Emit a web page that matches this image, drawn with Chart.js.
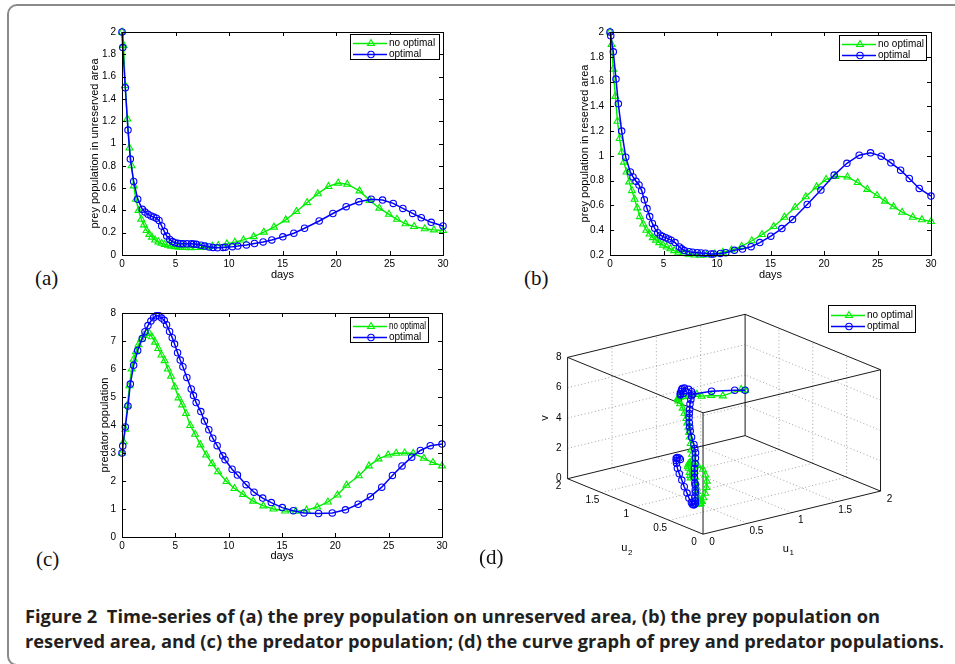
<!DOCTYPE html>
<html>
<head>
<meta charset="utf-8">
<title>Figure 2</title>
<script src="https://cdn.jsdelivr.net/npm/chart.js@4.4.1/dist/chart.umd.min.js"></script>
<style>
  body { margin: 0; background: #fff; }
  #page { position: relative; width: 955px; height: 664px; overflow: hidden; background: #fff; }
  #frame { position: absolute; left: 7px; top: 4px; width: 1000px; height: 658px; border: 2px solid #8a8a8a; border-radius: 10px; }
  canvas { position: absolute; }
  .lab { position: absolute; font-family: "Liberation Serif", "DejaVu Serif", serif; font-size: 21px; line-height: 21px; color: #111; }
  .cap { position: absolute; left: 25px; font-family: "Open Sans", "Noto Sans", sans-serif; font-weight: 700; font-size: 18px; line-height: 24px; color: #231f20; white-space: nowrap; transform-origin: 0 0; }
</style>
</head>
<body>
<div id="page">
  <div id="frame"></div>
  <canvas id="chartA" width="370" height="270" style="left:84px;top:20px"></canvas>
  <canvas id="chartB" width="370" height="270" style="left:572px;top:20px"></canvas>
  <canvas id="chartC" width="370" height="270" style="left:84px;top:301px"></canvas>
  <canvas id="chartD" width="475" height="300" style="left:480px;top:295px"></canvas>
  <div class="lab" style="left:35px;top:268px">(a)</div>
  <div class="lab" style="left:524px;top:268px">(b)</div>
  <div class="lab" style="left:36px;top:549px">(c)</div>
  <div class="lab" style="left:479px;top:547px">(d)</div>
  <div class="cap" data-w="855" style="top:604px">Figure 2&nbsp; Time-series of (a) the prey population on unreserved area, (b) the prey population on</div>
  <div class="cap" data-w="919" style="top:629px">reserved area, and (c) the predator population; (d) the curve graph of prey and predator populations.</div>
</div>
<script>
// time points (days) of the two runs
var tNo = [0, 0.15, 0.3, 0.5, 0.7, 0.9, 1.1, 1.3, 1.55, 1.8, 2.05, 2.3, 2.55, 2.8, 3.1, 3.4, 3.7, 4.0, 4.3, 4.6, 4.95, 5.3, 5.65, 6.0, 6.4, 6.85, 7.35, 7.9, 8.45, 9.0, 9.8, 10.55, 11.35, 12.3, 13.25, 14.2, 15.3, 16.3, 17.3, 18.3, 19.3, 20.2, 21.05, 22.2, 23.15, 24.05, 24.95, 25.7, 26.5, 27.3, 28.3, 29.15, 30];
var tOpt = [0, 0.07, 0.31, 0.56, 0.78, 1.09, 1.47, 1.9, 2.15, 2.43, 2.71, 2.96, 3.21, 3.46, 3.71, 3.96, 4.18, 4.46, 4.71, 4.93, 5.21, 5.46, 5.71, 6.08, 6.49, 6.7, 6.95, 7.39, 7.73, 8.14, 8.51, 8.92, 9.45, 9.66, 10.32, 10.82, 11.63, 12.38, 13.19, 14.0, 15.03, 16.06, 17.06, 18.43, 19.71, 20.95, 22.14, 23.29, 24.35, 25.35, 26.25, 27.16, 27.97, 28.9, 30];

// prey in unreserved area (u1)
var u1No = [2.0, 1.88, 1.52, 1.22, 0.96, 0.8, 0.62, 0.5, 0.4, 0.32, 0.27, 0.22, 0.185, 0.16, 0.135, 0.118, 0.105, 0.095, 0.088, 0.08, 0.075, 0.07, 0.068, 0.067, 0.066, 0.067, 0.068, 0.072, 0.078, 0.085, 0.1, 0.115, 0.135, 0.165, 0.205, 0.25, 0.315, 0.39, 0.47, 0.55, 0.615, 0.645, 0.635, 0.575, 0.49, 0.42, 0.365, 0.32, 0.28, 0.255, 0.235, 0.225, 0.22];
var u1Opt = [2.0, 1.86, 1.5, 1.12, 0.86, 0.66, 0.5, 0.41, 0.385, 0.365, 0.35, 0.34, 0.33, 0.31, 0.26, 0.21, 0.17, 0.14, 0.12, 0.11, 0.105, 0.102, 0.1, 0.1, 0.1, 0.098, 0.096, 0.088, 0.08, 0.072, 0.068, 0.066, 0.068, 0.07, 0.075, 0.08, 0.09, 0.103, 0.117, 0.135, 0.163, 0.195, 0.24, 0.305, 0.372, 0.433, 0.478, 0.5, 0.493, 0.463, 0.418, 0.373, 0.334, 0.293, 0.26];

// prey in reserved area (u2)
var u2No = [2.0, 1.9, 1.7, 1.48, 1.28, 1.14, 1.03, 0.95, 0.87, 0.79, 0.72, 0.65, 0.58, 0.51, 0.45, 0.4, 0.37, 0.34, 0.32, 0.3, 0.28, 0.265, 0.25, 0.235, 0.222, 0.213, 0.206, 0.2, 0.198, 0.2, 0.208, 0.222, 0.24, 0.27, 0.315, 0.365, 0.43, 0.505, 0.585, 0.67, 0.75, 0.81, 0.835, 0.83, 0.785, 0.73, 0.68, 0.635, 0.59, 0.545, 0.505, 0.485, 0.47];
var u2Opt = [2.0, 1.97, 1.84, 1.62, 1.42, 1.2, 0.99, 0.87, 0.83, 0.795, 0.765, 0.72, 0.645, 0.575, 0.51, 0.455, 0.415, 0.38, 0.36, 0.35, 0.34, 0.33, 0.32, 0.3, 0.265, 0.25, 0.236, 0.227, 0.222, 0.219, 0.216, 0.214, 0.209, 0.208, 0.213, 0.219, 0.238, 0.248, 0.267, 0.3, 0.352, 0.413, 0.486, 0.608, 0.724, 0.845, 0.94, 1.006, 1.025, 0.998, 0.944, 0.885, 0.818, 0.737, 0.676];

// predator (v)
var vNo = [3.0, 3.4, 3.85, 4.7, 5.4, 6.0, 6.35, 6.62, 6.87, 7.06, 7.2, 7.28, 7.28, 7.15, 6.96, 6.73, 6.5, 6.3, 6.0, 5.74, 5.36, 4.97, 4.72, 4.41, 3.98, 3.67, 3.29, 2.93, 2.62, 2.33, 1.98, 1.73, 1.52, 1.28, 1.11, 1.0, 0.93, 0.92, 0.96, 1.07, 1.25, 1.5, 1.85, 2.19, 2.54, 2.79, 2.93, 2.99, 3.0, 2.99, 2.81, 2.66, 2.54];
var vOpt = [3.0, 3.25, 3.93, 4.68, 5.46, 6.13, 6.66, 7.09, 7.33, 7.55, 7.71, 7.83, 7.9, 7.9, 7.82, 7.74, 7.58, 7.34, 7.12, 6.89, 6.58, 6.32, 6.08, 5.7, 5.29, 5.05, 4.8, 4.48, 4.14, 3.83, 3.53, 3.26, 2.9, 2.76, 2.42, 2.21, 1.87, 1.6, 1.39, 1.23, 1.05, 0.94, 0.86, 0.84, 0.86, 0.97, 1.17, 1.44, 1.78, 2.2, 2.54, 2.85, 3.09, 3.26, 3.32];

var seriesNames = ['no optimal', 'optimal'];
var xTicks = [0, 5, 10, 15, 20, 25, 30];
var yTicksA = [0, 0.2, 0.4, 0.6, 0.8, 1, 1.2, 1.4, 1.6, 1.8, 2];
var yTicksB = [0.2, 0.4, 0.6, 0.8, 1, 1.2, 1.4, 1.6, 1.8, 2];
var yTicksC = [0, 1, 2, 3, 4, 5, 6, 7, 8];
var u1Ticks = [0, 0.5, 1, 1.5, 2];
var u2Ticks = [0, 0.5, 1, 1.5, 2];
var vTicks = [0, 2, 4, 6, 8];

Chart.defaults.font.family = '"Liberation Sans", Arial, Helvetica, sans-serif';
Chart.defaults.font.size = 10;
Chart.defaults.color = '#000';

var GREEN = '#00ee00', BLUE = '#0000ff';
var greenStyle = { borderColor: GREEN, borderWidth: 1.4, pointStyle: 'triangle', pointRadius: 4, pointBorderColor: GREEN, pointBackgroundColor: 'rgba(0,0,0,0)', pointBorderWidth: 1.1, showLine: true, clip: false, order: 1 };
var blueStyle = { borderColor: BLUE, borderWidth: 1.5, pointStyle: 'circle', pointRadius: 3.2, pointBorderColor: BLUE, pointBackgroundColor: 'rgba(0,0,0,0)', pointBorderWidth: 1.1, showLine: true, clip: false, order: 0 };

function pts(ts, vals) {
  return ts.map(function(t, i) { return { x: t, y: vals[i] }; });
}

// matlab style box with inward ticks on all four sides
var mBox = {
  id: 'mbox',
  afterDatasetsDraw: function(chart) {
    var ctx = chart.ctx, a = chart.chartArea, x = chart.scales.x, y = chart.scales.y, L = 4;
    ctx.save();
    ctx.strokeStyle = '#000';
    ctx.lineWidth = 1;
    ctx.strokeRect(Math.round(a.left) + 0.5, Math.round(a.top) + 0.5, Math.round(a.width), Math.round(a.height));
    ctx.beginPath();
    x.ticks.forEach(function(t) {
      var p = Math.round(x.getPixelForValue(t.value)) + 0.5;
      ctx.moveTo(p, a.bottom); ctx.lineTo(p, a.bottom - L);
      ctx.moveTo(p, a.top); ctx.lineTo(p, a.top + L);
    });
    y.ticks.forEach(function(t) {
      var p = Math.round(y.getPixelForValue(t.value)) + 0.5;
      ctx.moveTo(a.left, p); ctx.lineTo(a.left + L, p);
      ctx.moveTo(a.right, p); ctx.lineTo(a.right - L, p);
    });
    ctx.stroke();
    ctx.restore();
  }
};

var mLegend = {
  id: 'mlegend',
  afterDraw: function(chart, args, opts) {
    var b = opts.box;
    if (!b) return;
    var ctx = chart.ctx;
    ctx.save();
    ctx.fillStyle = '#fff';
    ctx.fillRect(b.x, b.y, b.w, b.h);
    ctx.strokeStyle = '#000';
    ctx.lineWidth = 1;
    ctx.strokeRect(b.x + 0.5, b.y + 0.5, b.w, b.h);
    var rows = chart.data.datasets.filter(function(d) { return seriesNames.indexOf(d.label) >= 0; });
    rows.forEach(function(d, i) {
      var cy = Math.round(b.y + b.h * (0.36 + 0.42 * i)) + 0.5;
      ctx.strokeStyle = d.borderColor;
      ctx.lineWidth = d.borderWidth;
      ctx.beginPath();
      ctx.moveTo(b.x + 3, cy); ctx.lineTo(b.x + 37, cy);
      ctx.stroke();
      ctx.fillStyle = 'rgba(0,0,0,0)';
      ctx.lineWidth = d.pointBorderWidth;
      Chart.helpers.drawPoint(ctx, { pointStyle: d.pointStyle, radius: d.pointRadius, rotation: 0, borderWidth: d.pointBorderWidth }, b.x + 21, cy);
      ctx.fillStyle = '#000';
      ctx.font = '10px "Liberation Sans", Arial, sans-serif';
      ctx.textBaseline = 'middle';
      ctx.textAlign = 'left';
      ctx.fillText(d.label, b.x + 39, cy, b.w - 41);
    });
    ctx.restore();
  }
};

Chart.register(mBox, mLegend);

function panel(id, noVals, optVals, yTicks, yMin, yMax, yTitle, titlePad, padRight, xHeight, legendBox) {
  return new Chart(document.getElementById(id), {
    type: 'scatter',
    data: {
      datasets: [
        Object.assign({ label: seriesNames[0], data: pts(tNo, noVals) }, greenStyle),
        Object.assign({ label: seriesNames[1], data: pts(tOpt, optVals) }, blueStyle)
      ]
    },
    options: {
      animation: false,
      responsive: false,
      devicePixelRatio: 1,
      events: [],
      layout: { padding: { left: 0, top: 12, right: padRight, bottom: 0 } },
      scales: {
        x: {
          type: 'linear', min: 0, max: 30,
          grid: { display: false, drawTicks: false },
          border: { display: false },
          afterBuildTicks: function(s) { s.ticks = xTicks.map(function(v) { return { value: v }; }); },
          afterFit: function(s) { s.height = xHeight; },
          ticks: { padding: 3, maxRotation: 0, callback: function(v) { return String(v); } },
          title: { display: true, text: 'days', font: { size: 11 }, padding: { top: 0, bottom: 8 } }
        },
        y: {
          type: 'linear', min: yMin, max: yMax,
          grid: { display: false, drawTicks: false },
          border: { display: false },
          afterBuildTicks: function(s) { s.ticks = yTicks.map(function(v) { return { value: v }; }); },
          afterFit: function(s) { s.width = 38; },
          ticks: { padding: 6, callback: function(v) { return String(v); } },
          title: { display: true, text: yTitle, font: { size: 11 }, padding: { top: titlePad, bottom: 0 } }
        }
      },
      plugins: { legend: { display: false }, tooltip: { enabled: false }, mlegend: { box: legendBox } }
    }
  });
}

panel('chartA', u1No, u1Opt, yTicksA, 0, 2, 'prey population in unreserved area', 4, 11, 35, { x: 266, y: 14, w: 89, h: 25 });
panel('chartB', u2No, u2Opt, yTicksB, 0.2, 2, 'prey population in reserved area', 6, 11, 35, { x: 267, y: 15, w: 87, h: 25 });
panel('chartC', vNo, vOpt, yTicksC, 0, 8, 'predator population', 14, 12, 34, { x: 266, y: 16, w: 78, h: 25 });

// (d): 3-d trajectory (u1, u2, v) seen from matlab's default view
var VIEW = { ox: 222.7, oy: 242.3, e1: [90.7, -22.3], e2: [-69.2, -28.7], e3: [0, -15.7] };
function proj(u1, u2, v) {
  return { x: VIEW.ox + u1 * VIEW.e1[0] + u2 * VIEW.e2[0] + v * VIEW.e3[0],
           y: VIEW.oy + u1 * VIEW.e1[1] + u2 * VIEW.e2[1] + v * VIEW.e3[1] };
}
function segs(list) {
  var out = [];
  list.forEach(function(s) {
    out.push(proj(s[0][0], s[0][1], s[0][2]), proj(s[1][0], s[1][1], s[1][2]), { x: NaN, y: NaN });
  });
  return out;
}
var U1MAX = u1Ticks[u1Ticks.length - 1], U2MAX = u2Ticks[u2Ticks.length - 1], VMAX = vTicks[vTicks.length - 1];
var gridSegs = [];
u1Ticks.slice(1, -1).forEach(function(a) {
  gridSegs.push([[a, U2MAX, 0], [a, U2MAX, VMAX]]);
  gridSegs.push([[a, 0, 0], [a, U2MAX, 0]]);
});
u2Ticks.slice(1, -1).forEach(function(b) {
  gridSegs.push([[U1MAX, b, 0], [U1MAX, b, VMAX]]);
  gridSegs.push([[0, b, 0], [U1MAX, b, 0]]);
});
vTicks.slice(1, -1).forEach(function(c) {
  gridSegs.push([[0, U2MAX, c], [U1MAX, U2MAX, c]]);
  gridSegs.push([[U1MAX, 0, c], [U1MAX, U2MAX, c]]);
});
var edgeSegs = [];
[0, VMAX].forEach(function(c) {
  edgeSegs.push([[0, 0, c], [U1MAX, 0, c]], [[U1MAX, 0, c], [U1MAX, U2MAX, c]], [[U1MAX, U2MAX, c], [0, U2MAX, c]], [[0, U2MAX, c], [0, 0, c]]);
});
[[0, 0], [U1MAX, 0], [U1MAX, U2MAX], [0, U2MAX]].forEach(function(p) {
  edgeSegs.push([[p[0], p[1], 0], [p[0], p[1], VMAX]]);
});

var axes3d = {
  id: 'axes3d',
  afterDraw: function(chart) {
    var ctx = chart.ctx, sx = chart.scales.x, sy = chart.scales.y;
    function px(p) { return { x: sx.getPixelForValue(p.x), y: sy.getPixelForValue(p.y) }; }
    ctx.save();
    ctx.fillStyle = '#000';
    ctx.font = '10px "Liberation Sans", Arial, sans-serif';
    ctx.textBaseline = 'middle';
    ctx.textAlign = 'right';
    vTicks.forEach(function(c) { var p = px(proj(0, U2MAX, c)); ctx.fillText(String(c), p.x - 6, p.y); });
    ctx.textAlign = 'center';
    u2Ticks.forEach(function(b) { var p = px(proj(0, b, 0)); ctx.fillText(String(b), p.x - 9, p.y + 8); });
    u1Ticks.forEach(function(a) { var p = px(proj(a, 0, 0)); ctx.fillText(String(a), p.x + 9, p.y + 8); });
    ctx.font = '11px "Liberation Sans", Arial, sans-serif';
    var pv = px(proj(0, U2MAX, VMAX / 2));
    ctx.save();
    ctx.translate(pv.x - 23, pv.y);
    ctx.rotate(-Math.PI / 2);
    ctx.fillText('v', 0, 0);
    ctx.restore();
    var p2 = px(proj(0, U2MAX / 2, 0));
    ctx.fillText('u', p2.x - 11, p2.y + 42);
    ctx.font = '8px "Liberation Sans", Arial, sans-serif';
    ctx.fillText('2', p2.x - 5, p2.y + 46);
    var p1 = px(proj(U1MAX / 2, 0, 0));
    ctx.font = '11px "Liberation Sans", Arial, sans-serif';
    ctx.fillText('u', p1.x - 6, p1.y + 36);
    ctx.font = '8px "Liberation Sans", Arial, sans-serif';
    ctx.fillText('1', p1.x, p1.y + 40);
    ctx.restore();
  }
};

new Chart(document.getElementById('chartD'), {
  type: 'scatter',
  data: {
    datasets: [
      { data: segs(gridSegs), showLine: true, borderColor: '#8c8c8c', borderWidth: 0.8, borderDash: [1, 2.5], pointRadius: 0, clip: false, order: 3 },
      { data: segs(edgeSegs), showLine: true, borderColor: '#000', borderWidth: 0.9, pointRadius: 0, clip: false, order: 2 },
      Object.assign({ label: seriesNames[0], data: tNo.map(function(t, i) { return proj(u1No[i], u2No[i], vNo[i]); }) }, greenStyle),
      Object.assign({ label: seriesNames[1], data: tOpt.map(function(t, i) { return proj(u1Opt[i], u2Opt[i], vOpt[i]); }) }, blueStyle)
    ]
  },
  options: {
    animation: false,
    responsive: false,
    devicePixelRatio: 1,
    events: [],
    layout: { padding: 0 },
    scales: {
      x: { type: 'linear', display: false, min: 0, max: 475 },
      y: { type: 'linear', display: false, min: 0, max: 300, reverse: true }
    },
    plugins: { legend: { display: false }, tooltip: { enabled: false }, mbox: false, mlegend: { box: { x: 348, y: 10, w: 87, h: 27 } } }
  },
  plugins: [axes3d]
});

// squeeze the caption lines to the widths of the printed figure
document.querySelectorAll('.cap').forEach(function(el) {
  var w = el.getBoundingClientRect().width;
  el.style.transform = 'scaleX(' + (parseFloat(el.dataset.w) / w) + ')';
});
</script>
</body>
</html>
